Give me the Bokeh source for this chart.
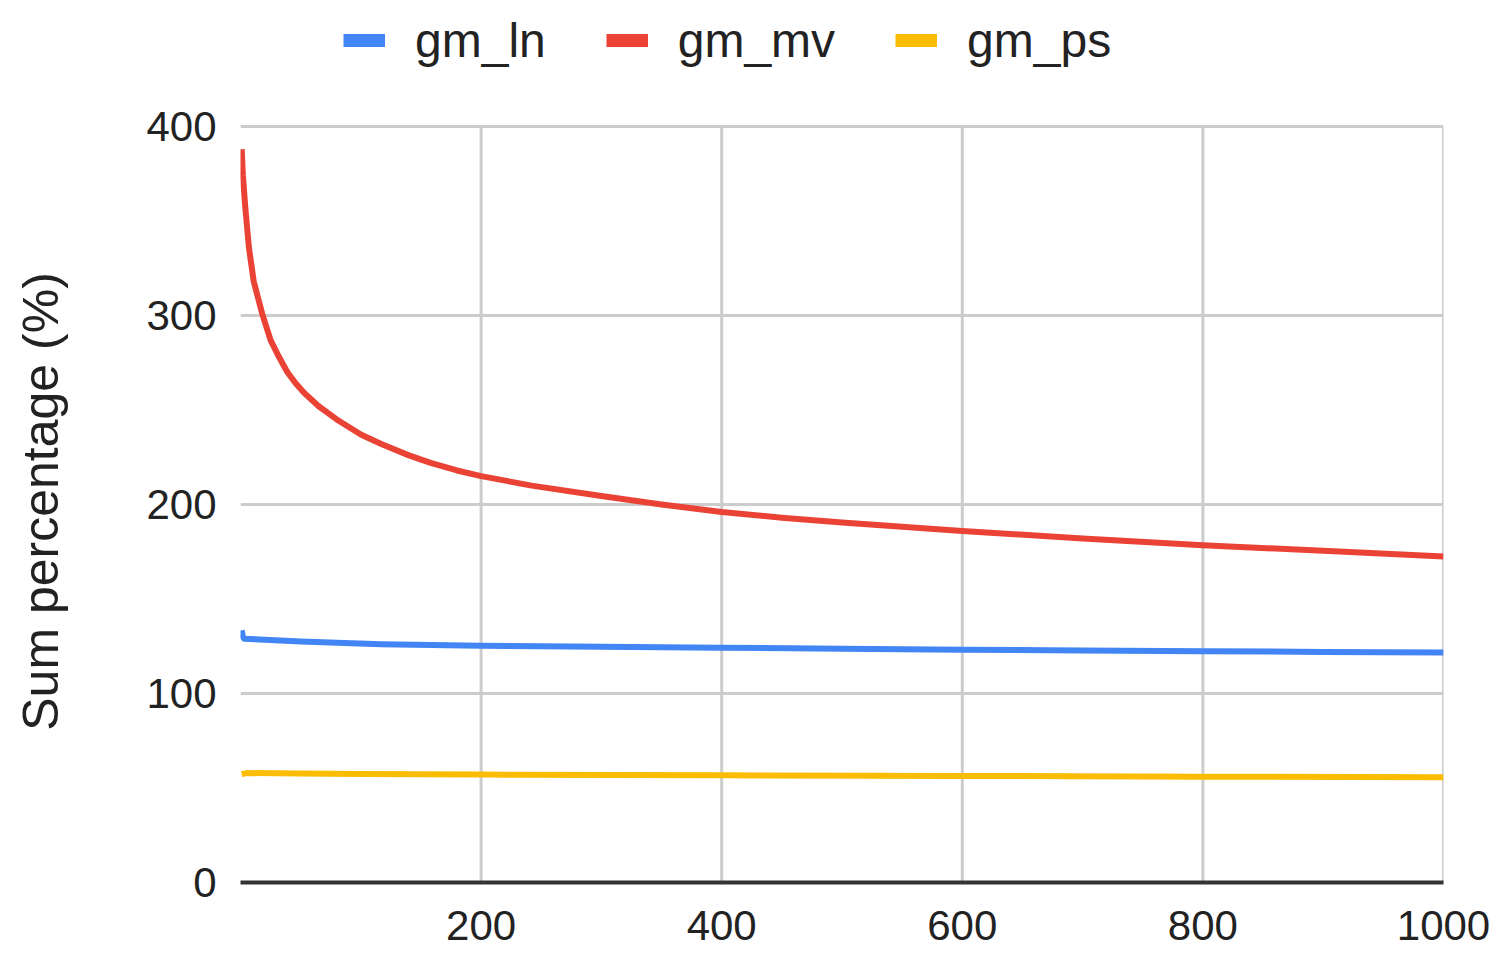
import numpy as np
from bokeh.plotting import figure
from bokeh.layouts import column
from bokeh.models import Range1d, FixedTicker, Legend, LegendItem
from bokeh.embed import file_html
from bokeh.resources import INLINE

# ---- data ----
series_names = ["gm_ln", "gm_mv", "gm_ps"]
series_colors = ["#4285F4", "#EA4335", "#FBBC04"]

x_ln = [1, 2, 3, 20, 50, 117, 200, 300, 400, 500, 600, 700, 800, 900, 1000]
gm_ln = [133.5, 130, 129, 128.5, 127.5, 126, 125.3, 124.7, 124.2, 123.7, 123.2, 122.8, 122.4, 122, 121.7]

x_mv = [1, 2, 4, 7, 11, 18, 25, 32, 39, 46, 53, 65, 80, 100, 117, 140, 158, 180, 200,
        242, 300, 350, 400, 450, 500, 600, 700, 800, 900, 1000]
gm_mv = [388, 374, 357, 336, 318, 301, 287, 278, 270, 264, 259, 252, 245, 237, 232, 226, 222, 218, 215,
         210, 204.5, 200, 196, 193, 190.5, 186, 182, 178.5, 175.5, 172.5]

x_ps = [1, 5, 50, 100, 200, 400, 600, 800, 1000]
gm_ps = [57.3, 57.9, 57.7, 57.4, 57.1, 56.7, 56.4, 56.0, 55.7]

x_ticks = [200, 400, 600, 800, 1000]
y_ticks = [0, 100, 200, 300, 400]
y_title = "Sum percentage (%)"

FONT = "Liberation Sans"

# layout geometry (pixels)
W, H = 1500, 960
LEGEND_H = 90
MAIN_TOP_PAD = 30
MAIN_H = H - LEGEND_H
FRAME_BOTTOM_PAD = 78
TOP_OF_400 = 126                      # page row of the 400 gridline
FRAME_TOP = LEGEND_H + MAIN_TOP_PAD   # page row of the frame top
FRAME_BOTTOM = H - FRAME_BOTTOM_PAD
y_max = y_ticks[-1]
px_per_unit = (FRAME_BOTTOM - TOP_OF_400) / y_max
y_end = y_max + (TOP_OF_400 - FRAME_TOP) / px_per_unit

# ---------- legend strip ----------
top = figure(width=W, height=LEGEND_H, x_range=Range1d(0, 1), y_range=Range1d(0, 1),
             output_backend="svg", toolbar_location=None,
             min_border_left=0, min_border_right=0, min_border_top=0, min_border_bottom=0)
top.axis.visible = False
top.grid.visible = False
top.outline_line_color = None
top.background_fill_color = "white"
top.border_fill_color = "white"

items = []
for name, c in zip(series_names, series_colors):
    dummy = top.line(x=np.array([np.nan, np.nan]), y=np.array([np.nan, np.nan]),
                     line_color=c, line_width=13)
    items.append(LegendItem(label=name, renderers=[dummy]))
leg = Legend(items=items, location=(103, LEGEND_H - 68), orientation="horizontal",
             glyph_width=42, glyph_height=56, label_height=56,
             label_standoff=30, label_text_font=FONT,
             label_text_font_size="48px", label_text_color="#222222",
             label_text_baseline="middle",
             background_fill_alpha=0, border_line_color=None,
             padding=0, margin=0, spacing=60)
top.add_layout(leg, "center")

# ---------- main chart ----------
p = figure(width=W, height=MAIN_H,
           x_range=Range1d(0, 1000), y_range=Range1d(0, y_end),
           output_backend="svg", toolbar_location=None,
           min_border_left=240, min_border_right=57,
           min_border_top=MAIN_TOP_PAD, min_border_bottom=FRAME_BOTTOM_PAD)
p.outline_line_color = None
p.background_fill_color = "white"
p.border_fill_color = "white"

p.ygrid.ticker = FixedTicker(ticks=y_ticks)
p.ygrid.grid_line_color = "#cccccc"
p.ygrid.grid_line_width = 3
# vertical grid only within the data area (0..400)
p.xgrid.visible = False
p.segment(x0=x_ticks, y0=[y_ticks[0]] * len(x_ticks), x1=x_ticks, y1=[y_max] * len(x_ticks),
          line_color="#cccccc", line_width=3)

xa = p.xaxis[0]
xa.ticker = FixedTicker(ticks=x_ticks)
xa.axis_line_color = "#333333"
xa.axis_line_width = 4
xa.major_tick_line_color = None
xa.minor_tick_line_color = None
xa.major_tick_out = 0
xa.major_tick_in = 0
xa.major_label_text_font = FONT
xa.major_label_text_font_size = "42px"
xa.major_label_text_color = "#222222"
xa.major_label_standoff = 28

ya = p.yaxis[0]
ya.ticker = FixedTicker(ticks=y_ticks)
ya.axis_line_color = None
ya.major_tick_line_color = None
ya.minor_tick_line_color = None
ya.major_tick_out = 0
ya.major_tick_in = 0
ya.major_label_text_font = FONT
ya.major_label_text_font_size = "42px"
ya.major_label_text_color = "#222222"
ya.major_label_standoff = 24
ya.axis_label = y_title
ya.axis_label_text_font = FONT
ya.axis_label_text_font_size = "50px"
ya.axis_label_text_font_style = "normal"
ya.axis_label_text_color = "#222222"
ya.axis_label_standoff = 74

xs = [x_ln, x_mv, x_ps]
ys = [gm_ln, gm_mv, gm_ps]
for xv, yv, c in zip(xs, ys, series_colors):
    p.line(xv, yv, line_color=c, line_width=6, line_join="round")

layout = column(top, p, spacing=0)
open("out.html", "w").write(file_html(layout, INLINE))
